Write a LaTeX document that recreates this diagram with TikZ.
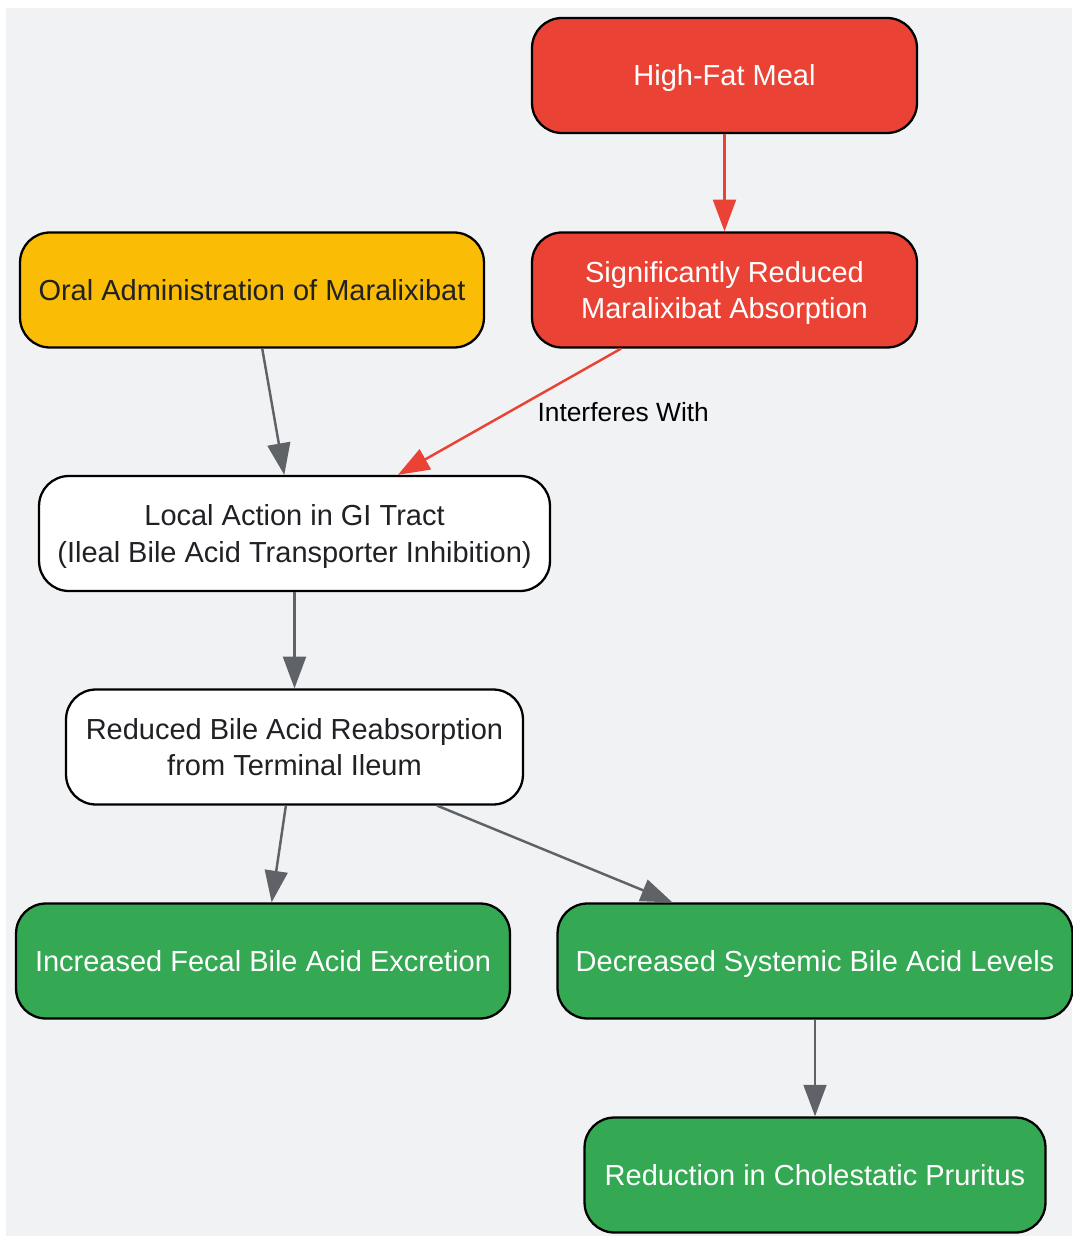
\documentclass[tikz,border=0pt]{standalone}
\usepackage{fontspec}
\setmainfont{Liberation Sans}
\usetikzlibrary{arrows.meta,positioning}
\definecolor{gred}{HTML}{EA4335}
\definecolor{gyellow}{HTML}{FBBC05}
\definecolor{ggreen}{HTML}{34A853}
\definecolor{bggray}{HTML}{F1F2F4}
\definecolor{edgegray}{HTML}{5F6368}
\definecolor{darktext}{HTML}{202124}

\begin{document}
\begin{tikzpicture}[x=0.02cm,y=-0.02cm,>={Triangle[length=18pt,width=13pt]},
  box/.style={draw=black,line width=1.3pt,rounded corners=17pt,minimum height=2.3cm,
    align=center,text depth=0pt,text=darktext,font=\fontsize{16.5}{20.5}\selectfont},
  redbox/.style={box,fill=gred,text=white},
  yellowbox/.style={box,fill=gyellow},
  whitebox/.style={box,fill=white},
  greenbox/.style={box,fill=ggreen,text=white},
  flow/.style={->,line width=1.4pt,color=edgegray},
  badflow/.style={->,line width=1.4pt,color=gred}]
\useasboundingbox (0,0) rectangle (1072,1236);
\fill[bggray] (6,8) rectangle (1072,1236);

% nodes
\node[redbox,minimum width=7.7cm] (meal) at (724.5,75.5) {High-Fat Meal};
\node[redbox,minimum width=7.7cm] (lowabs) at (724.5,290) {Significantly Reduced\\Maralixibat Absorption};
\node[yellowbox,minimum width=9.28cm] (oral) at (252,290) {Oral Administration of Maralixibat};
\node[whitebox,minimum width=10.22cm] (local) at (294.5,533.5) {Local Action in GI Tract\\(Ileal Bile Acid Transporter Inhibition)};
\node[whitebox,minimum width=9.14cm] (reabs) at (294.5,747) {Reduced Bile Acid Reabsorption\\from Terminal Ileum};
\node[greenbox,minimum width=9.88cm] (fecal) at (263,961) {Increased Fecal Bile Acid Excretion};
\node[greenbox,minimum width=10.3cm] (systemic) at (815,961) {Decreased Systemic Bile Acid Levels};
\node[greenbox,minimum width=9.22cm] (pruritus) at (815,1175) {Reduction in Cholestatic Pruritus};

% edges
\draw[badflow] (meal) -- (lowabs);
\draw[flow] (oral) -- (local);
\draw[badflow] (lowabs) -- node[right=0.42cm,text=black,font=\fontsize{15}{18}\selectfont] {Interferes With} (local);
\draw[flow] (local) -- (reabs);
\draw[flow] (reabs) -- (fecal);
\draw[flow] (reabs) -- (systemic);
\draw[flow] (systemic) -- (pruritus);
\end{tikzpicture}
\end{document}
